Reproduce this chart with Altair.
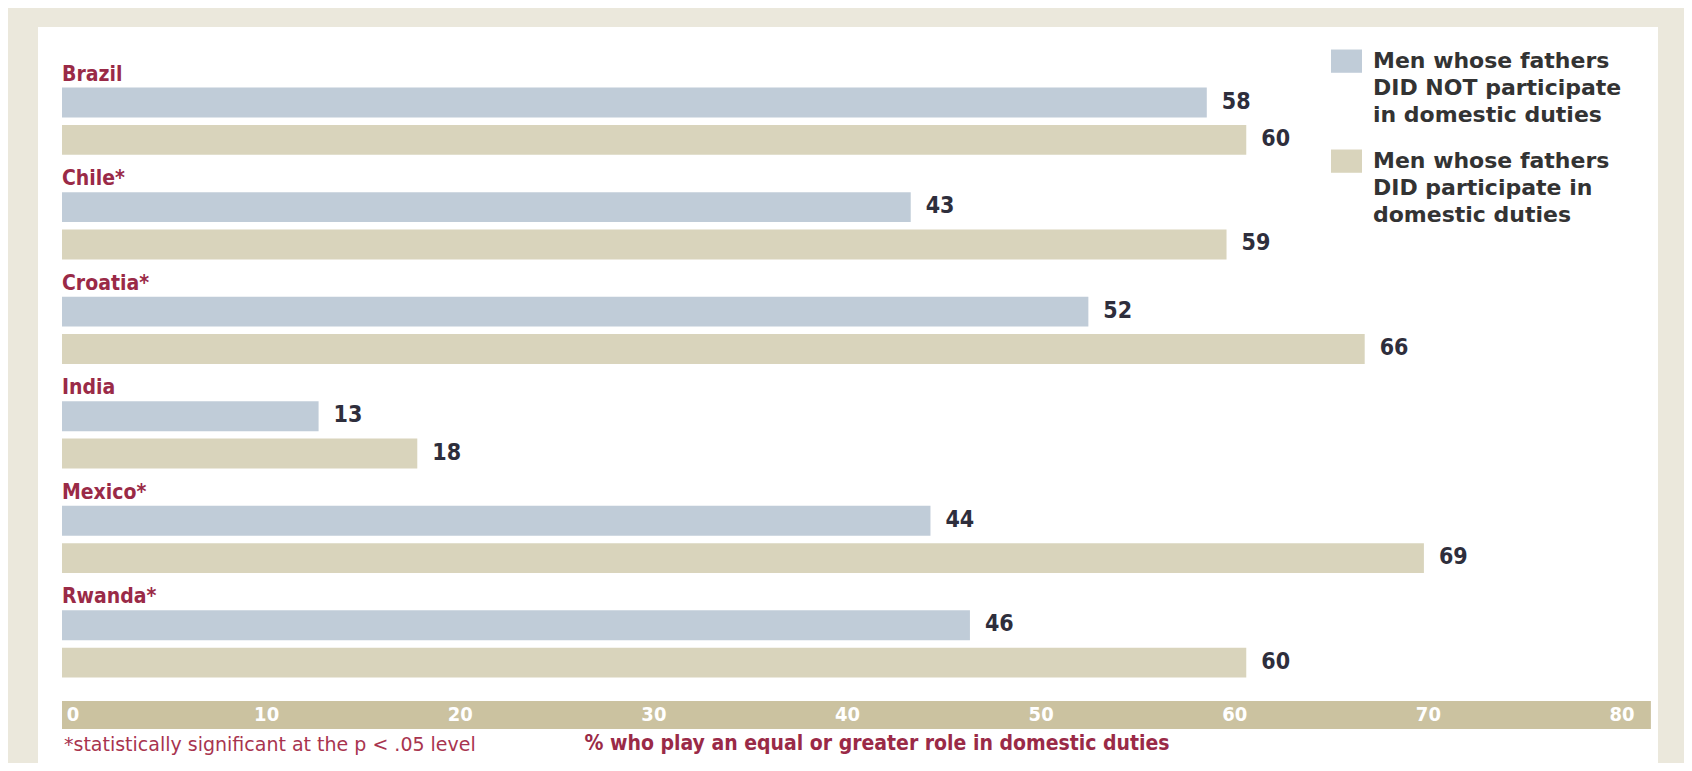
import altair as alt
import pandas as pd

countries = ["Brazil", "Chile*", "Croatia*", "India", "Mexico*", "Rwanda*"]
did_not = [58, 43, 52, 13, 44, 46]
did = [60, 59, 66, 18, 69, 60]
series = ["Men whose fathers\nDID NOT participate\nin domestic duties",
          "Men whose fathers\nDID participate in\ndomestic duties"]
colors = ["#C0CCD8", "#D9D4BC"]
ticks = [0, 10, 20, 30, 40, 50, 60, 70, 80]
axis_title = "% who play an equal or greater role in domestic duties"
footnote = "*statistically significant at the p < .05 level"

rows = []
for c, a, b in zip(countries, did_not, did):
    rows.append({"country": c, "series": series[0], "value": a})
    rows.append({"country": c, "series": series[1], "value": b})
df = pd.DataFrame(rows)
df_c = pd.DataFrame({"country": countries})
df_t = pd.DataFrame({"tick": ticks})
df_band = pd.DataFrame({"start": [0], "end": [80.5]})
df_one = pd.DataFrame({"a": [0]})

NARROW = "Liberation Sans Narrow, DejaVu Sans Condensed, sans-serif"
RED = "#9A2A47"

xscale = alt.Scale(domain=[-1.216, 80.86], nice=False, zero=False)
yscale = alt.Scale(domain=countries, range=[60.6, 650.6], paddingInner=0.357, paddingOuter=0)
yoff = alt.YOffset("series:N", scale=alt.Scale(domain=series, paddingInner=0.2, paddingOuter=0))

band = alt.Chart(df_band).mark_rect(color="#CBC2A0").encode(
    x=alt.X("start:Q", scale=xscale, axis=None),
    x2="end:Q",
    y=alt.value(674), y2=alt.value(702),
)

bars = alt.Chart(df).mark_bar().encode(
    x=alt.X("value:Q", scale=xscale, axis=None),
    y=alt.Y("country:N", scale=yscale, axis=None),
    yOffset=yoff,
    color=alt.Color("series:N", scale=alt.Scale(domain=series, range=colors),
                    legend=alt.Legend(orient="none", legendX=1293, legendY=25, title=None,
                                      symbolType="M-1,-1.16H1V0.34H-1Z", symbolSize=961,
                                      symbolStrokeWidth=0, symbolOpacity=1,
                                      labelFont="DejaVu Sans", labelFontWeight="bold",
                                      labelFontSize=22, labelColor="#333333",
                                      labelExpr="split(datum.label, '\\n')",
                                      labelOffset=11, labelLimit=0, labelBaseline="alphabetic",
                                      rowPadding=23, padding=0)),
)

values = alt.Chart(df).mark_text(align="left", baseline="alphabetic", dx=15, dy=6,
                                  font=NARROW, fontWeight="bold", fontSize=23,
                                  color="#2E2E3C").encode(
    x=alt.X("value:Q", scale=xscale, axis=None),
    y=alt.Y("country:N", scale=yscale, axis=None),
    yOffset=yoff,
    text="value:Q",
)

clabels = alt.Chart(df_c).mark_text(align="left", baseline="alphabetic", dy=-7,
                                     font=NARROW, fontWeight="bold", fontSize=21,
                                     color=RED).encode(
    x=alt.X(datum=0, scale=xscale, axis=None),
    y=alt.Y("country:N", scale=yscale, axis=None, bandPosition=0),
    text="country:N",
)

tlabels = alt.Chart(df_t).mark_text(align="center", baseline="alphabetic",
                                     font=NARROW, fontWeight="bold", fontSize=20,
                                     color="#FFFFFF").encode(
    x=alt.X("tick:Q", scale=alt.Scale(domain=[0, 80], range=[35, 1584], nice=False), axis=None),
    y=alt.value(694),
    text="tick:Q",
)

foot = alt.Chart(df_one).mark_text(align="left", baseline="alphabetic",
                                    font="DejaVu Sans", fontSize=19, color="#A8344F").encode(
    x=alt.value(26), y=alt.value(724), text=alt.value(footnote),
)

title = alt.Chart(df_one).mark_text(align="center", baseline="alphabetic",
                                     font=NARROW, fontWeight="bold", fontSize=21, color=RED).encode(
    x=alt.value(839), y=alt.value(723), text=alt.value(axis_title),
)

chart = alt.layer(band, bars, values, clabels, tlabels, foot, title).resolve_scale(
    x="independent"
).properties(
    width=1620, height=736,
    padding={"left": 30, "top": 19, "right": 26, "bottom": 0},
    autosize=alt.AutoSizeParams(type="none"),
    background="#EBE8DC",
).configure(
    style={"guide-label": {"lineHeight": 27}}
).configure_view(fill="white", strokeWidth=0)

chart.save("out.html", embed_options={"renderer": "svg", "actions": False})
